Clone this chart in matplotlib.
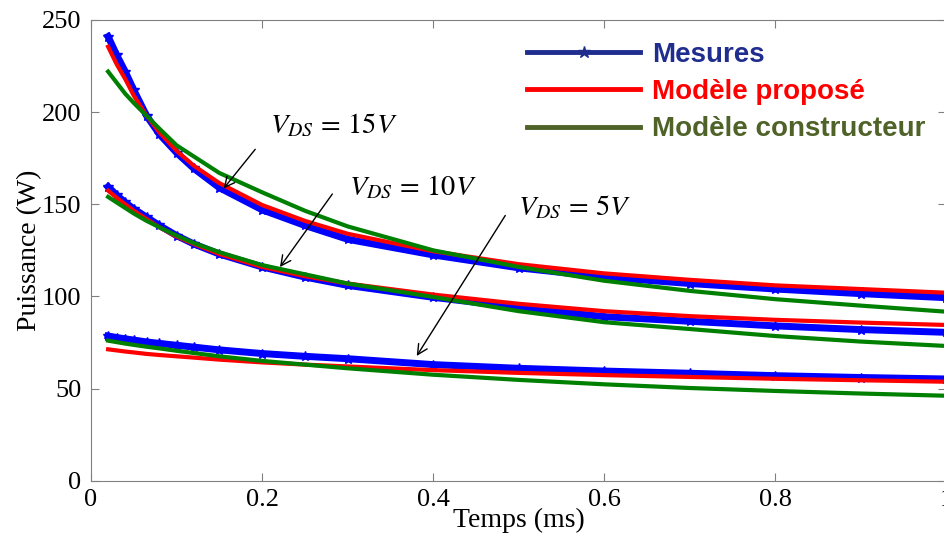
import numpy as np
import matplotlib
matplotlib.use('Agg')
import matplotlib.pyplot as plt
from matplotlib.lines import Line2D

plt.rcParams['mathtext.fontset'] = 'stix'

# time axis (ms)
t = [0.02, 0.03, 0.04, 0.05, 0.065, 0.08, 0.1, 0.12, 0.15, 0.2, 0.25, 0.3, 0.4, 0.5, 0.6, 0.7, 0.8, 0.9, 1.0]

# VDS = 15 V
mes_15 = [241, 231, 222, 212, 198, 188, 178, 169.5, 159, 147, 138.5, 131, 122.5, 115.5, 110.5, 107, 104, 101.5, 99.3]
prop_15 = [235.5, 226, 218, 209, 198, 189, 179, 171, 161.5, 149.6, 141, 134, 124.5, 117.5, 112.5, 109, 106, 104, 102]
cons_15 = [222, 216, 210, 205, 198, 191, 182, 176, 167, 156.5, 146.5, 138, 125, 116, 108.5, 103, 98.5, 95, 91.7]

# VDS = 10 V
mes_10 = [159.5, 155, 151, 147.5, 143, 138.5, 133, 128.5, 123, 116, 110.5, 106, 99.5, 94, 89, 86.5, 84, 82, 80.5]
prop_10 = [157.4, 153.5, 150, 146.5, 142, 137.5, 132.5, 128.5, 123, 116, 111, 107, 101, 96, 92, 89.3, 87.3, 85.8, 84.5]
cons_10 = [154, 151, 148, 145, 141, 137.5, 133, 129, 124, 117, 112, 107, 99.7, 92, 86, 82.3, 78.5, 75.5, 73.1]

# VDS = 5 V
mes_5 = [78.5, 77.7, 77, 76.3, 75.3, 74.5, 73.5, 72.5, 71, 69, 67.5, 66.2, 63, 61, 59.5, 58.3, 57, 56, 55.2]
prop_5 = [71.3, 70.7, 70.1, 69.6, 68.8, 68.2, 67.5, 66.8, 65.7, 64.2, 63, 62, 60, 58.5, 57.3, 56.3, 55.3, 54.5, 53.7]
cons_5 = [76, 75.2, 74.4, 73.7, 72.7, 71.8, 70.5, 69.3, 67.5, 65, 63, 61, 57.5, 54.7, 52.3, 50.3, 48.7, 47.3, 46.1]

legend_labels = ['Mesures', 'Modèle proposé', 'Modèle constructeur']

fig = plt.figure(figsize=(9.45, 5.45), dpi=100)
ax = fig.add_axes([91 / 945, 64.3 / 545, 855.5 / 945, 460.7 / 545])

for mes, prop, cons in [(mes_15, prop_15, cons_15), (mes_10, prop_10, cons_10), (mes_5, prop_5, cons_5)]:
    ax.plot(t, mes, color='blue', lw=5, marker='*', markersize=7, zorder=2)
    ax.plot(t, prop, color='red', lw=3, zorder=3)
    ax.plot(t, cons, color='green', lw=3, zorder=4)

ax.set_xlim(0, 1)
ax.set_ylim(0, 250)
ax.set_xticks([0, 0.2, 0.4, 0.6, 0.8, 1])
ax.set_xticklabels(['0', '0.2', '0.4', '0.6', '0.8', '1'])
ax.set_yticks([0, 50, 100, 150, 200, 250])

serif = 'Liberation Serif'
for lab in ax.get_xticklabels() + ax.get_yticklabels():
    lab.set_fontfamily(serif)
    lab.set_fontsize(19)
ax.tick_params(direction='in', length=6, color='#808080', top=True, right=True)
ax.tick_params(axis='y', pad=7)
ax.tick_params(axis='x', pad=6)
for s in ax.spines.values():
    s.set_color('#808080')

ax.set_xlabel('Temps (ms)', fontfamily=serif, fontsize=20, labelpad=-2)
ax.set_ylabel('Puissance (W)', fontfamily=serif, fontsize=20, labelpad=0)

# annotations
arrow = dict(arrowstyle='->', color='black', lw=1, mutation_scale=18)
ax.annotate('', xy=(0.153, 157.4), xytext=(0.194, 181), arrowprops=arrow, zorder=6)
ax.annotate('', xy=(0.219, 114.7), xytext=(0.284, 156.8), arrowprops=arrow, zorder=6)
ax.annotate('', xy=(0.379, 66.4), xytext=(0.486, 145.2), arrowprops=arrow, zorder=6)
ax.text(0.209, 193, r'$V_{DS}\,=\,15V$', fontsize=20.5, va='center', ha='left')
ax.text(0.301, 159.4, r'$V_{DS}\,=\,10V$', fontsize=20.5, va='center', ha='left')
ax.text(0.499, 148.5, r'$V_{DS}\,=\,5V$', fontsize=20.5, va='center', ha='left')

handles = [
    Line2D([], [], color='#1f2d8f', lw=3.5, marker='*', markersize=9),
    Line2D([], [], color='red', lw=3.5),
    Line2D([], [], color='#4f6228', lw=3.5),
]
ax.legend(handles, legend_labels, loc='upper left', bbox_to_anchor=(527 / 945, 1 - 42 / 545),
          bbox_transform=fig.transFigure, frameon=False, numpoints=1,
          prop={'family': 'Liberation Sans', 'weight': 'bold', 'size': 20},
          labelcolor=['#1f2d8f', 'red', '#4f6228'], handlelength=4.07, handletextpad=0.43,
          labelspacing=0.4, borderpad=0, borderaxespad=0)

fig.savefig('out.png', dpi=100)
